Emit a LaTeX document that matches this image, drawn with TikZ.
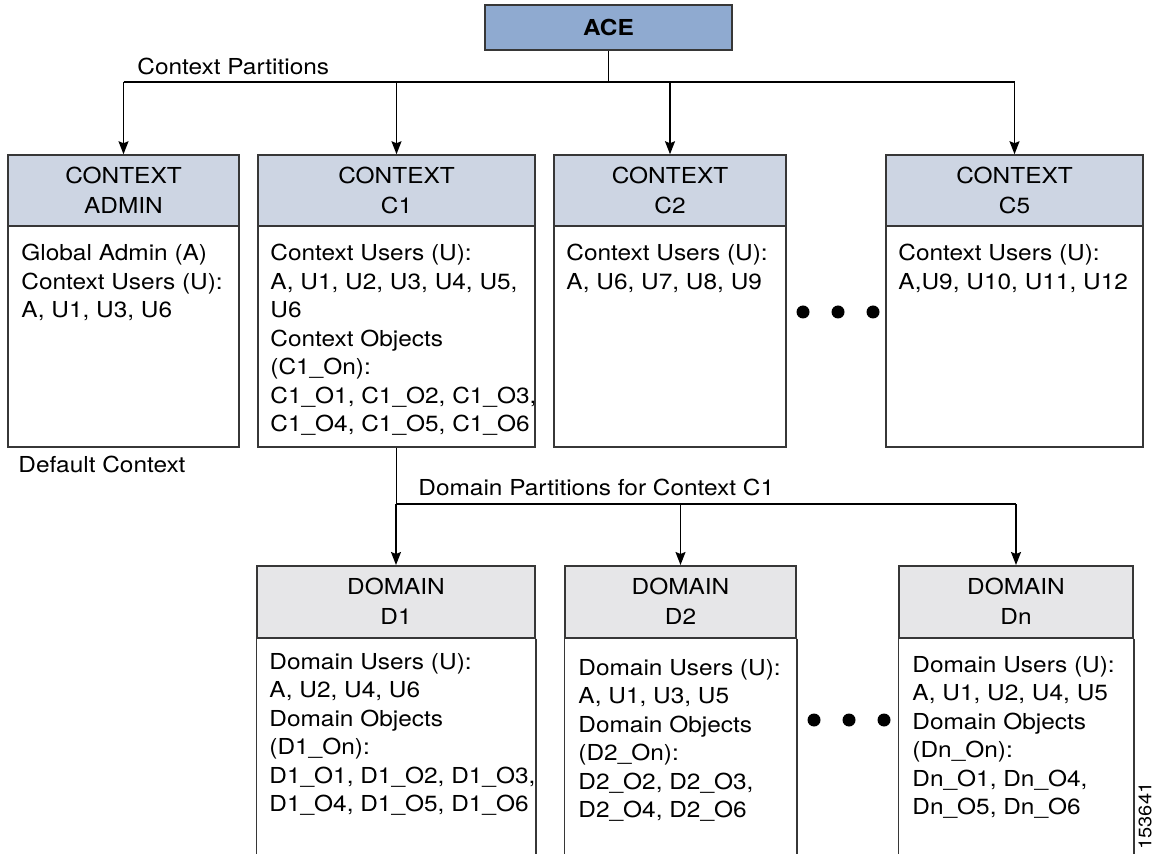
\documentclass[tikz,border=0pt]{standalone}
\usepackage{fontspec}
\setmainfont[FakeStretch=1.11]{TeX Gyre Heros}
\usepackage{xcolor}
\usetikzlibrary{arrows.meta,positioning}
\definecolor{acefill}{RGB}{143,170,208}
\definecolor{ctxfill}{RGB}{205,213,227}
\definecolor{domfill}{RGB}{230,230,232}
\definecolor{boxline}{RGB}{55,55,55}
\newcommand{\ctxbodyfont}{\fontsize{11}{14.25}\selectfont}
\newcommand{\ctxheadfont}{\fontsize{11}{15}\selectfont}
\tikzset{
    ctxframe/.style={draw=boxline, line width=0.75pt, inner sep=0pt, minimum height=146pt},
    headbase/.style={draw=boxline, line width=0.75pt, inner sep=0pt, anchor=north,
        align=center, font=\ctxheadfont},
    ctxhead/.style={headbase, fill=ctxfill, minimum height=35.5pt,
        execute at begin node={\rule{0pt}{11.5pt}}},
    domhead/.style={headbase, fill=domfill, minimum height=36pt},
    acebox/.style={draw=boxline, line width=0.75pt, fill=acefill, inner sep=0pt,
        minimum width=123.5pt, minimum height=22.5pt, font=\ctxheadfont\bfseries},
    bodytext/.style={anchor=north west, inner sep=0pt, align=left, font=\ctxbodyfont},
    plain/.style={inner sep=0pt, font=\ctxbodyfont},
    link/.style={line width=0.75pt},
    arrowlink/.style={link, -{Stealth[length=6.5pt, width=5pt, inset=1pt]}}
}

\begin{document}
\begin{tikzpicture}[x=0.5pt, y=-0.5pt]
    \useasboundingbox (0,0) rectangle (1154,854);
    \clip (0,0) rectangle (1154,854);

    % top of the tree
    \node[acebox] (ace) at (608.5,27.5) {ACE};
    \coordinate (ctxbus) at (608.5,82);
    \node[plain, anchor=base west] (ctxlabel) at (137,75) {Context Partitions};

    % context partitions
    \node[ctxframe, minimum width=115.5pt] (admin) at (123.5,301) {};
    \node[ctxframe, minimum width=138.5pt] (c1) at (396.5,301) {};
    \node[ctxframe, minimum width=116pt] (c2) at (670,301) {};
    \node[ctxframe, minimum width=128.5pt] (c5) at (1014.5,301) {};

    \node[ctxhead, minimum width=115.5pt] (adminhead) at (admin.north) {CONTEXT\\ADMIN};
    \node[ctxhead, minimum width=138.5pt] (c1head) at (c1.north) {CONTEXT\\C1};
    \node[ctxhead, minimum width=116pt] (c2head) at (c2.north) {CONTEXT\\C2};
    \node[ctxhead, minimum width=128.5pt] (c5head) at (c5.north) {CONTEXT\\C5};

    \node[bodytext] (admintext) at (21,244) {Global Admin (A)\\Context Users (U):\\A, U1, U3, U6};
    \node[bodytext] (c1text) at (270,244) {Context Users (U):\\A, U1, U2, U3, U4, U5,\\U6\\Context Objects\\(C1\_On):\\C1\_O1, C1\_O2, C1\_O3,\\C1\_O4, C1\_O5, C1\_O6};
    \node[bodytext] (c2text) at (566,244) {Context Users (U):\\A, U6, U7, U8, U9};
    \node[bodytext] (c5text) at (898,244) {Context Users (U):\\A,U9, U10, U11, U12};
    \node[plain, anchor=base west] (defaultlabel) at (18,473) {Default Context};

    \draw[link] (ace) -- (ctxbus);
    \draw[link] (ctxbus -| admin) -- (ctxbus -| c5);
    \foreach \n in {admin,c1,c2,c5}
        \draw[arrowlink] (ctxbus -| \n) -- (\n.north);

    \foreach \x in {803,838,873}
        \fill (\x,312) circle (3.25pt);

    % domain partitions of C1
    \coordinate (dombus) at (396.5,504);
    \node[plain, anchor=base west] (domlabel) at (418,495) {Domain Partitions for Context C1};

    \node[domhead, minimum width=139pt] (d1) at (396,565) {DOMAIN\\D1};
    \node[domhead, minimum width=115.5pt] (d2) at (680.5,565) {DOMAIN\\D2};
    \node[domhead, minimum width=117pt] (dn) at (1016,565) {DOMAIN\\Dn};
    \foreach \n in {d1,d2,dn}
        \draw[draw=boxline, line width=0.75pt] (\n.south west) -- ++(0,260) (\n.south east) -- ++(0,260);

    \node[bodytext] (d1text) at (269,653) {Domain Users (U):\\A, U2, U4, U6\\Domain Objects\\(D1\_On):\\D1\_O1, D1\_O2, D1\_O3,\\D1\_O4, D1\_O5, D1\_O6};
    \node[bodytext] (d2text) at (578,659) {Domain Users (U):\\A, U1, U3, U5\\Domain Objects\\(D2\_On):\\D2\_O2, D2\_O3,\\D2\_O4, D2\_O6};
    \node[bodytext] (dntext) at (912,656) {Domain Users (U):\\A, U1, U2, U4, U5\\Domain Objects\\(Dn\_On):\\Dn\_O1, Dn\_O4,\\Dn\_O5, Dn\_O6};

    \draw[link] (c1) -- (dombus);
    \draw[link] (dombus) -- (dombus -| dn);
    \foreach \n in {d1,d2,dn}
        \draw[arrowlink] (dombus -| \n) -- (\n.north);

    \foreach \x in {814,849,884}
        \fill (\x,720) circle (3.25pt);

    \node[plain, font=\fontsize{9}{10}\selectfont, rotate=90] (figid) at (1145,816) {153641};
\end{tikzpicture}
\end{document}
